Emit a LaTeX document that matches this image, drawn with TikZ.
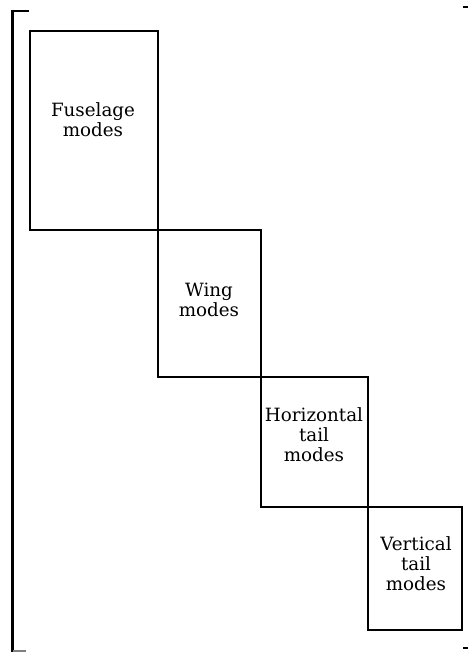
\documentclass[tikz,border=0pt]{standalone}
\usepackage{tikz}
\usepackage{fontspec}
\setmainfont{DejaVu Serif}

\tikzset{
  modebox/.style={draw,line width=1.4pt,inner sep=0pt},
  modetext/.style={inner sep=0pt,align=center,font=\fontsize{13}{14.3}\selectfont},
}

\begin{document}
\begin{tikzpicture}[x=0.025cm,y=-0.025cm]
\useasboundingbox (0,0) rectangle (468,652);
% outer bracket
\draw[line width=1.6pt] (29,11) -- (12.5,11) -- (12.5,652);
\draw[line width=0.8pt,gray] (12.5,651) -- (26,651);
\draw[line width=1.2pt] (463,7) -- (468,7);
\draw[line width=1.2pt] (463,648) -- (468,648);
% mode blocks
\node[modebox,minimum width=3.2cm,minimum height=4.975cm] (fus) at (94,130.5) {};
\node[modebox,minimum width=2.575cm,minimum height=3.675cm] (wing) at (209.5,303.5) {};
\node[modebox,minimum width=2.675cm,minimum height=3.25cm] (htail) at (314.5,442) {};
\node[modebox,minimum width=2.35cm,minimum height=3.075cm] (vtail) at (415,568.5) {};
\node[modetext] (fustext) at (93,120) {Fuselage\\modes};
\node[modetext] (wingtext) at (209,300) {Wing\\modes};
\node[modetext] (htailtext) at (314,435) {Horizontal\\tail\\modes};
\node[modetext] (vtailtext) at (416,564) {Vertical\\tail\\modes};
\end{tikzpicture}
\end{document}
